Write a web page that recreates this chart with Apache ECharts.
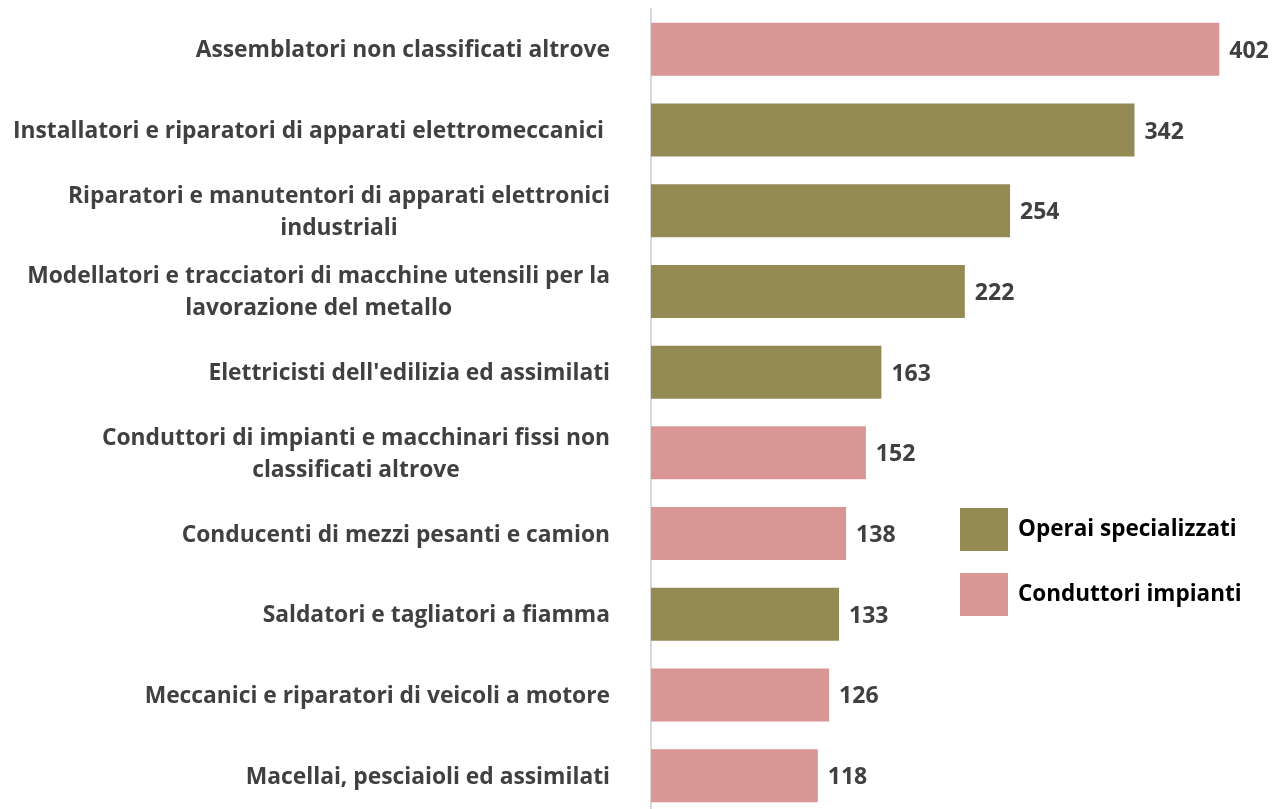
<!DOCTYPE html>
<html><head><meta charset="utf-8">
<script src="https://cdn.jsdelivr.net/npm/echarts@6/dist/echarts.min.js"></script>
<style>html,body{margin:0;padding:0;background:#fff;overflow:hidden}#c{width:1276px;height:820px}</style>
</head><body><div id="c"></div>
<script>
const categories = [
  "Assemblatori non classificati altrove",
  "Installatori e riparatori di apparati elettromeccanici ",
  "Riparatori e manutentori di apparati elettronici\nindustriali",
  "Modellatori e tracciatori di macchine utensili per la\nlavorazione del metallo",
  "Elettricisti dell'edilizia ed assimilati",
  "Conduttori di impianti e macchinari fissi non\nclassificati altrove",
  "Conducenti di mezzi pesanti e camion",
  "Saldatori e tagliatori a fiamma",
  "Meccanici e riparatori di veicoli a motore",
  "Macellai, pesciaioli ed assimilati"
];
const values = [402, 342, 254, 222, 163, 152, 138, 133, 126, 118];
const groups = ["C", "O", "O", "O", "O", "C", "C", "O", "C", "C"];
const seriesNames = { O: "Operai specializzati", C: "Conduttori impianti" };
const seriesColors = { O: "#948A54", C: "#D99694" };

const chart = echarts.init(document.getElementById('c'));
const FONT = 'Open Sans';
function mk(key) {
  return {
    name: seriesNames[key], type: 'bar', stack: 'all', barWidth: 53,
    itemStyle: { color: seriesColors[key] },
    label: { show: true, position: 'right', distance: 10, color: '#404040',
      fontFamily: FONT, fontWeight: 'bold', fontSize: 23, offset: [0, 2] },
    data: values.map((v, i) => groups[i] === key ? v : '-')
  };
}
chart.setOption({
  animation: false,
  backgroundColor: '#fff',
  grid: { left: 651, top: 9, width: 622, height: 807, containLabel: false },
  legend: {
    orient: 'vertical', left: 960, top: 508, padding: 0, itemWidth: 48, itemHeight: 43, itemGap: 22,
    icon: 'rect', data: [seriesNames.O, seriesNames.C],
    textStyle: { color: '#000', fontFamily: FONT, fontWeight: 'bold', fontSize: 22.5, padding: [2,0,0,5] }
  },
  xAxis: { type: 'value', min: 0, max: 440, show: false },
  yAxis: {
    type: 'category', inverse: true, data: categories,
    axisLine: { show: true, lineStyle: { color: '#d9d9d9', width: 2 } },
    axisTick: { show: false },
    axisLabel: {
      margin: 41, color: '#404040', fontFamily: FONT, fontWeight: 'bold', fontSize: 22.8,
      lineHeight: 32,
      formatter: v => v.split('\n').map(s => '{c|' + s + '}').join('\n'),
      rich: { c: { align: 'center', color: '#404040', fontFamily: FONT, fontWeight: 'bold', fontSize: 22.8, lineHeight: 32, padding: [3,0,0,0] } }
    }
  },
  series: [mk('O'), mk('C')]
});
</script></body></html>
